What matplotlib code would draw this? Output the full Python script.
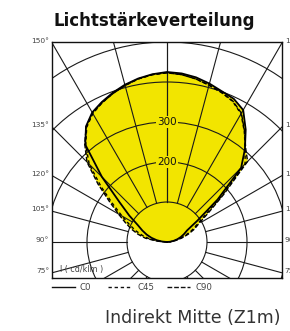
import numpy as np
import matplotlib
matplotlib.use("Agg")
import matplotlib.pyplot as plt
from matplotlib.patches import Circle
from matplotlib.lines import Line2D
from matplotlib.transforms import blended_transform_factory

# luminous intensity (cd/klm) vs gamma, upper hemisphere (indirect)
gamma = [90, 95, 100, 105, 110, 115, 120, 125, 130, 135, 140, 145, 150, 155, 160, 165, 170, 175, 180]
c0_right = [0, 8, 17, 27, 37, 47, 58, 92, 165, 262, 303, 343, 381, 395, 401, 410, 418, 423, 425]
c0_left = [0, 12, 26, 40, 54, 68, 84, 115, 155, 230, 318, 353, 374, 386, 397, 407, 415, 421, 425]
c45_right = [0, 9, 20, 34, 50, 68, 86, 115, 178, 276, 304, 337, 370, 388, 398, 406, 414, 420, 423]
c45_left = [0, 20, 45, 64, 84, 104, 130, 165, 215, 275, 316, 350, 371, 384, 395, 405, 414, 420, 423]
c90_right = [0, 10, 22, 38, 56, 75, 92, 125, 185, 285, 306, 338, 372, 389, 398, 406, 414, 420, 423]
c90_left = [0, 25, 55, 75, 95, 115, 140, 175, 225, 283, 320, 352, 372, 384, 395, 405, 414, 420, 423]

rings = [100, 200, 300, 400, 500]
ring_labels = [200, 300]
radial_angles = list(range(0, 181, 15))
side_angles = [150, 135, 120, 105, 90, 75]
plane_names = ["C0", "C45", "C90"]

YELLOW = "#f2e500"
GRID = "#1a1a1a"
GREY = "#444444"


def curve(left, right):
    g = np.radians(gamma)
    xl = -np.array(left) * np.sin(g)
    yl = -np.array(left) * np.cos(g)
    xr = np.array(right) * np.sin(g)
    yr = -np.array(right) * np.cos(g)
    return np.r_[xl, xr[::-1]], np.r_[yl, yr[::-1]]


W, H = 290, 331
fig = plt.figure(figsize=(W / 100, H / 100), dpi=100)
ax = fig.add_axes([52 / W, 53 / H, 230 / W, 236 / H])
ax.set_xlim(-287.5, 287.5)
ax.set_ylim(-90, 500)
ax.set_xticks([]); ax.set_yticks([])
for s in ax.spines.values():
    s.set_linewidth(1.0); s.set_color("#111")

planes = [(c0_left, c0_right), (c45_left, c45_right), (c90_left, c90_right)]
for lf, rt in planes:
    x, y = curve(lf, rt)
    ax.fill(x, y, color=YELLOW, lw=0, zorder=1)

# grid: rings + radial lines outside the 100 ring
for r in rings:
    ax.add_patch(Circle((0, 0), r, fill=False, ec=GRID, lw=0.8, zorder=2))
for a in radial_angles:
    t = np.radians(a)
    for side in (-1, 1):
        ax.plot([side * 100 * np.sin(t), side * 1000 * np.sin(t)],
                [-100 * np.cos(t), -1000 * np.cos(t)], color=GRID, lw=0.8, zorder=2)

styles = ["-", (0, (2.4, 2.0)), (0, (3.4, 1.4))]
widths = [1.3, 1.0, 1.0]
for (lf, rt), ls, lw in zip(planes, styles, widths):
    x, y = curve(lf, rt)
    ax.plot(x, y, color="#000", ls=ls, lw=lw, zorder=3)

for r in ring_labels:
    ax.text(0, r, str(r), ha="center", va="center", fontsize=7.5, color="#111", zorder=4,
            bbox=dict(boxstyle="square,pad=0.12", fc=YELLOW, ec="none"))

tr = blended_transform_factory(ax.transAxes, ax.transData)
for a in side_angles:
    yy = -287.5 / np.tan(np.radians(a)) + 5
    ax.text(-0.012, yy, f"{a}°", transform=tr, ha="right", va="center", fontsize=5.4, color=GREY)
    ax.text(1.012, yy, f"{a}°", transform=tr, ha="left", va="center", fontsize=5.4, color=GREY)

ax.text(0.035, 0.034, "I ( cd/klm )", transform=ax.transAxes, ha="left", va="center",
        fontsize=5.8, color=GREY, zorder=4)

# legend row under the diagram
ly = 1 - 287 / H
leg = [(52, 75, 80), (108, 130, 138), (167, 190, 195)]
for (x0, x1, xt), ls, name in zip(leg, styles, plane_names):
    fig.add_artist(Line2D([x0 / W, x1 / W], [ly, ly], color="#111", ls=ls, lw=1.0))
    fig.text(xt / W, ly, name, ha="left", va="center", fontsize=6.2, color=GREY)

fig.text(154 / W, 1 - 21 / H, "Lichtstärkeverteilung", ha="center", va="center",
         fontsize=12, fontweight="bold", color="#111")
fig.text(192.5 / W, 1 - 318 / H, "Indirekt Mitte (Z1m)", ha="center", va="center",
         fontsize=12.5, color="#333")

fig.savefig("out.png", dpi=100)
